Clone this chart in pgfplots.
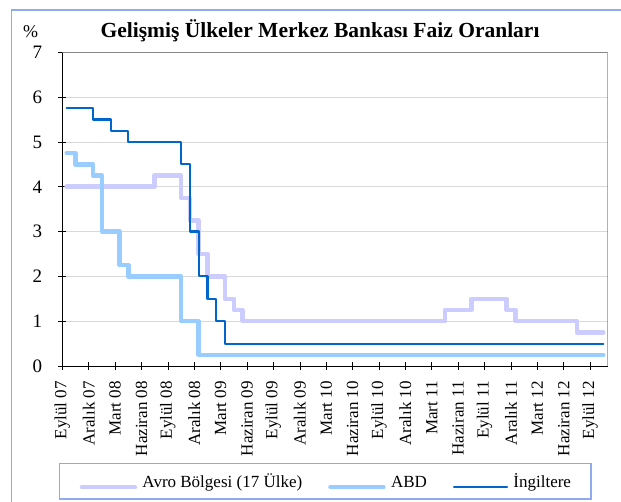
\documentclass[border=0pt]{standalone}
\usepackage{fontspec}
\setmainfont{Liberation Serif}
\usepackage{pgfplots}
\pgfplotsset{compat=1.18}
\definecolor{avro}{RGB}{204,204,255}
\definecolor{abd}{RGB}{153,204,255}
\definecolor{uk}{RGB}{0,102,204}
\definecolor{framec}{RGB}{143,170,240}
\definecolor{gridc}{RGB}{217,217,217}
\definecolor{bordc}{RGB}{134,134,134}
\newcommand{\tickfont}{\fontsize{17bp}{20bp}\selectfont}
\newcommand{\ytickfont}{\fontsize{19bp}{21bp}\selectfont}
\newcommand{\T}[1]{{\tickfont #1}}
\begin{document}
\begin{tikzpicture}[x=1bp,y=1bp]
\draw[framec, line width=1.2bp] (11.7,-660) -- (11.7,-10) -- (700,-10);
\node[anchor=base, font=\bfseries\fontsize{21.5bp}{24bp}\selectfont] at (320,-38) {Gelişmiş Ülkeler Merkez Bankası Faiz Oranları};
\node[anchor=base, font=\fontsize{18bp}{20bp}\selectfont] at (30.5,-38) {\%};
\begin{axis}[
 at={(62.3bp,-366bp)}, anchor=south west,
 width=545.4bp, height=313.7bp, scale only axis,
 xmin=0, xmax=62, ymin=0, ymax=7,
 axis x line*=bottom, axis y line*=left,
 axis line style={black, line width=0.8bp, -},
 xtick={0,3,...,60},
 xticklabels={\T{Eylül 07}, \T{Aralık 07}, \T{Mart 08}, \T{Haziran 08}, \T{Eylül 08}, \T{Aralık 08}, \T{Mart 09}, \T{Haziran 09}, \T{Eylül 09}, \T{Aralık 09}, \T{Mart 10}, \T{Haziran 10}, \T{Eylül 10}, \T{Aralık 10}, \T{Mart 11}, \T{Haziran 11}, \T{Eylül 11}, \T{Aralık 11}, \T{Mart 12}, \T{Haziran 12}, \T{Eylül 12}},
 ytick={0,1,...,7},
 yticklabels={\ytickfont 0,\ytickfont 1,\ytickfont 2,\ytickfont 3,\ytickfont 4,\ytickfont 5,\ytickfont 6,\ytickfont 7},
 ymajorgrids, grid style={gridc, line width=0.8bp},
 tick align=center, major tick length=8bp, tick style={black, line width=0.6bp},
 every x tick label/.append style={rotate=90, anchor=east, inner sep=0pt, font=\tickfont},
 xticklabel shift=11bp,
 every y tick label/.append style={anchor=east, inner sep=0pt, font=\ytickfont},
 yticklabel shift=16bp,
 legend columns=3,
 legend image code/.code={\draw[#1] (0bp,0bp) -- (53bp,0bp);},
 legend style={at={(0.4823,-0.3676)}, anchor=center, draw=framec, line width=1.2bp,
   inner xsep=20bp, inner ysep=9.5bp, font=\tickfont,
   nodes={inner sep=0pt, anchor=base west},
   /tikz/every odd column/.append style={column sep=5.3bp},
   /tikz/every even column/.append style={column sep=26bp}},
]
\addplot[avro, line width=4.5bp, const plot, line join=round, line cap=round] coordinates {
(0.5,4)(10.5,4.25)(13.5,3.75)(14.5,3.25)(15.5,2.5)(16.5,2)(18.5,1.5)(19.5,1.25)(20.5,1)(43.5,1.25)(46.5,1.5)(50.5,1.25)(51.5,1)(58.5,0.75)(61.5,0.75)};
\addlegendentry{Avro Bölgesi (17 Ülke)}
\addplot[abd, line width=4.5bp, const plot, line join=round, line cap=round] coordinates {
(0.5,4.75)(1.5,4.5)(3.5,4.25)(4.5,3)(6.5,2.25)(7.5,2)(13.5,1)(15.5,0.25)(61.5,0.25)};
\addlegendentry{ABD}
\addplot[uk, line width=2.2bp, const plot, line join=round, line cap=round] coordinates {
(0.5,5.75)(3.5,5.5)(5.5,5.25)(7.5,5)(13.5,4.5)(14.5,3)(15.5,2)(16.5,1.5)(17.5,1)(18.5,0.5)(61.5,0.5)};
\addlegendentry{İngiltere}
\draw[bordc, line width=0.8bp] (rel axis cs:0,1) -- (rel axis cs:1,1) -- (rel axis cs:1,0);
\end{axis}
\pgfresetboundingbox
\useasboundingbox (0,0) rectangle (621,-502);
\end{tikzpicture}
\end{document}
